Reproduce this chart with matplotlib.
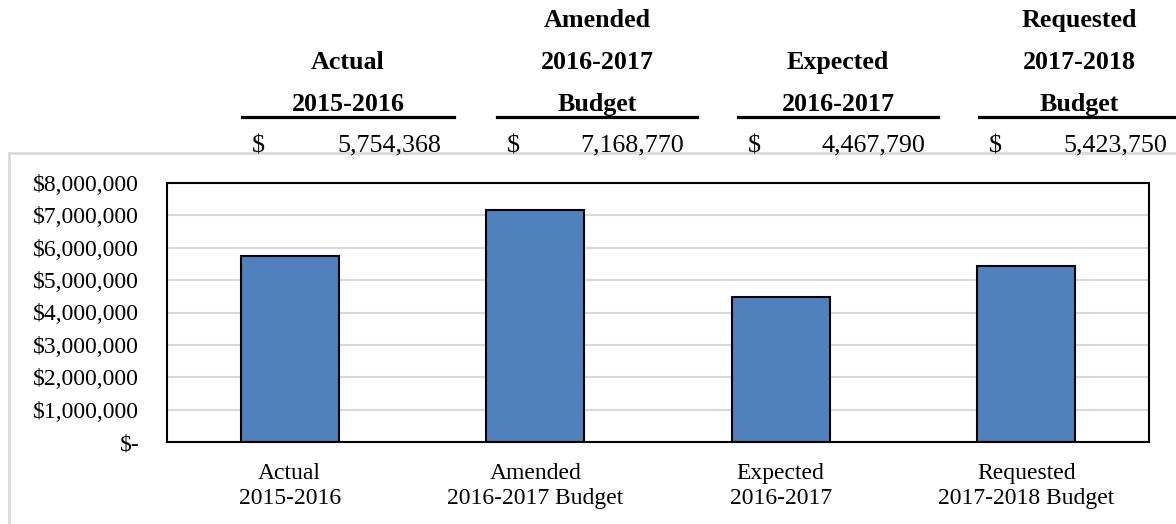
import matplotlib
matplotlib.use("Agg")
import matplotlib.pyplot as plt
from matplotlib.lines import Line2D
from matplotlib.ticker import FuncFormatter

# ---- data ----
categories = ["Actual\n2015-2016", "Amended\n2016-2017 Budget",
              "Expected\n2016-2017", "Requested\n2017-2018 Budget"]
header_labels = [["", "Actual", "2015-2016"],
                 ["Amended", "2016-2017", "Budget"],
                 ["", "Expected", "2016-2017"],
                 ["Requested", "2017-2018", "Budget"]]
values = [5754368, 7168770, 4467790, 5423750]
y_ticks = [0, 1000000, 2000000, 3000000, 4000000, 5000000, 6000000, 7000000, 8000000]

W, H = 1176, 524
plt.rcParams['font.family'] = ['Liberation Serif', 'DejaVu Serif']
fig = plt.figure(figsize=(W / 100, H / 100), dpi=100)

def fx(px):
    return px / W

def fy(py):
    return 1 - py / H

# ---- header table ----
col_start = [242, 497, 738, 979]
col_end = [454, 697, 938, 1180]
row_baselines = [27, 69, 111]
hdr_size = 18.7
for i in range(4):
    cx = (col_start[i] + col_end[i]) / 2
    for r, txt in enumerate(header_labels[i]):
        if txt:
            fig.text(fx(cx), fy(row_baselines[r]), txt, ha='center', va='baseline',
                     fontsize=hdr_size, fontweight='bold', color='black')
    fig.add_artist(Line2D([fx(col_start[i]), fx(col_end[i])], [fy(117), fy(117)],
                          color='black', lw=2.3, transform=fig.transFigure))
    fig.text(fx(col_start[i] + 10), fy(152), "$", ha='left', va='baseline',
             fontsize=hdr_size, color='black')
    fig.text(fx(col_end[i] - 13), fy(151), f"{values[i]:,}", ha='right', va='baseline',
             fontsize=hdr_size, color='black')

# ---- outer gray chart frame ----
fig.add_artist(Line2D([fx(9), fx(9)], [fy(153), fy(H + 5)], color='#d9d9d9', lw=2,
                      transform=fig.transFigure))
fig.add_artist(Line2D([fx(9), fx(W + 5)], [fy(153), fy(153)], color='#d9d9d9', lw=2,
                      transform=fig.transFigure))

# ---- chart ----
left, right, top, bottom = 167, 1149, 183, 442
ax = fig.add_axes([fx(left), fy(bottom), fx(right - left), fy(top) - fy(bottom)])
x = list(range(len(categories)))
ax.bar(x, values, width=0.4, color='#4F81BD', edgecolor='black', linewidth=1.5, zorder=3)
ax.set_xlim(-0.5, len(categories) - 0.5)
ax.set_ylim(0, 8000000)
ax.set_yticks(y_ticks)

def fmt(v, pos):
    if v == 0:
        return "$-"
    return f"${int(v):,}"

ax.yaxis.set_major_formatter(FuncFormatter(fmt))
ax.set_xticks(x)
ax.set_xticklabels(categories, fontsize=17, linespacing=1.25)
ax.tick_params(axis='y', length=0, pad=20, labelsize=17)
ax.tick_params(axis='x', length=0, pad=15)
ax.grid(axis='y', color='#d9d9d9', lw=1.5, zorder=0)
for s in ax.spines.values():
    s.set_color('black')
    s.set_linewidth(1.5)
    s.set_zorder(4)

fig.savefig("out.png", dpi=100)
